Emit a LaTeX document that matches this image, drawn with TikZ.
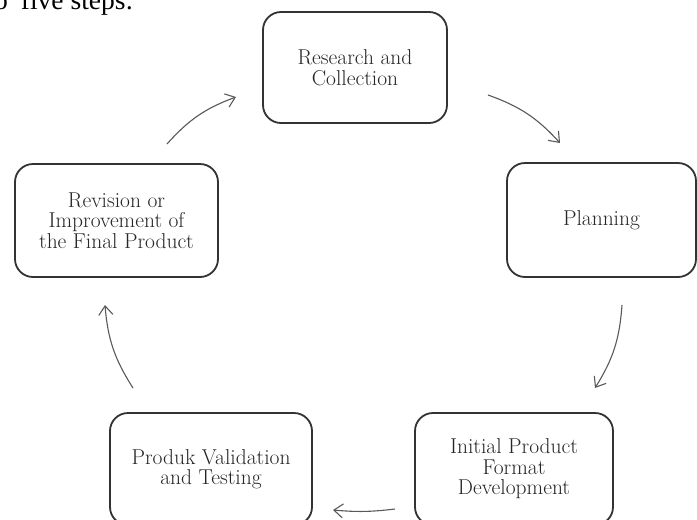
\documentclass[tikz,border=0pt]{standalone}
\usepackage{fontspec}
\newfontfamily\headfont{Liberation Serif}
\usetikzlibrary{arrows.meta}
\tikzset{
  stagebox/.style={draw=black!80, line width=1.8pt, rounded corners=18pt, align=center,
    font=\fontsize{21.5pt}{20.5pt}\selectfont, text=black!85, inner sep=0pt},
  cyclearrow/.style={draw=black!65, line width=1.1pt, -{Straight Barb[length=9pt,width=14pt,line width=1.1pt]}, bend left=14}
}
\begin{document}
\begin{tikzpicture}[x=1pt,y=-1pt]
\clip (0,0) rectangle (697,520);
\fill[white] (0,0) rectangle (697,520);
\node[anchor=base west, inner sep=0pt, font=\headfont\fontsize{27.5pt}{28pt}\selectfont] (head) at (-6,9) {o\hspace{13pt}five steps:};
\node[stagebox, minimum width=184pt, minimum height=111pt] (research) at (355,67.5) {Research and\\Collection};
\node[stagebox, minimum width=189pt, minimum height=114pt] (planning) at (601.5,220) {Planning};
\node[stagebox, minimum width=198pt, minimum height=112pt] (initial) at (514,469) {Initial Product\\Format\\Development};
\node[stagebox, minimum width=202pt, minimum height=112pt] (produk) at (211,469) {Produk Validation\\and Testing};
\node[stagebox, minimum width=203pt, minimum height=113pt] (revision) at (116.5,220.5) {Revision or\\Improvement of\\the Final Product};
\coordinate (a1s) at (488,95);  \coordinate (a1e) at (560,143);
\coordinate (a2s) at (622,305); \coordinate (a2e) at (595,388);
\coordinate (a3s) at (395,509); \coordinate (a3e) at (333,510);
\coordinate (a4s) at (133,388); \coordinate (a4e) at (105,305);
\coordinate (a5s) at (167,144); \coordinate (a5e) at (236,97);
\draw[cyclearrow] (a1s) to (a1e);
\draw[cyclearrow] (a2s) to (a2e);
\draw[cyclearrow, bend left=6] (a3s) to (a3e);
\draw[cyclearrow] (a4s) to (a4e);
\draw[cyclearrow] (a5s) to (a5e);
\end{tikzpicture}
\end{document}
